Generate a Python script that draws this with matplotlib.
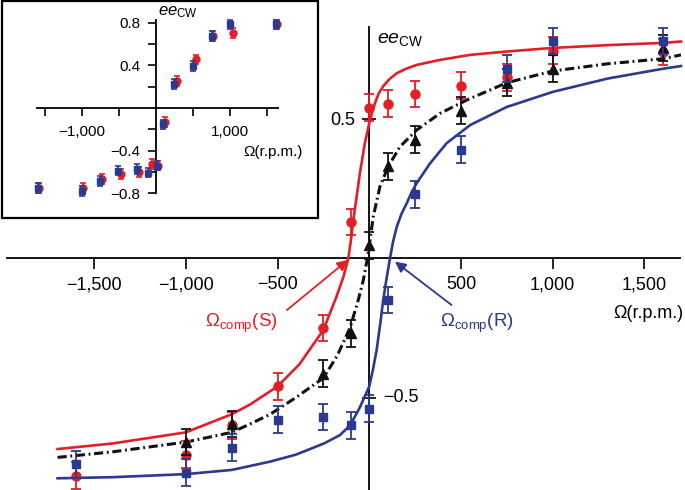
import matplotlib
matplotlib.use('Agg')
import matplotlib.pyplot as plt
from matplotlib.patches import Rectangle

plt.rcParams['font.family'] = ['Liberation Sans', 'DejaVu Sans']
plt.rcParams['mathtext.fontset'] = 'custom'
plt.rcParams['mathtext.rm'] = 'Liberation Sans'
plt.rcParams['mathtext.it'] = 'Liberation Sans:italic'
plt.rcParams['mathtext.bf'] = 'Liberation Sans:bold'
plt.rcParams['axes.unicode_minus'] = True

RED = '#e31e24'
BLUE = '#2b3990'
BLACK = '#111111'

# ---------------- main panel data ----------------
rpm_S = [-1600, -1000, -750, -500, -250, -100, 0, 100, 250, 500, 750, 1000, 1600]
ee_S = [-0.78, -0.705, -0.60, -0.46, -0.25, 0.13, 0.54, 0.555, 0.59, 0.62, 0.65, 0.745, 0.74]

rpm_rac = [-1000, -750, -250, -100, 0, 100, 250, 500, 750, 1000, 1600]
ee_rac = [-0.66, -0.595, -0.415, -0.27, 0.047, 0.33, 0.425, 0.53, 0.63, 0.68, 0.755]

rpm_R = [-1600, -1000, -750, -500, -250, -100, 0, 100, 250, 500, 750, 1000, 1600]
ee_R = [-0.74, -0.77, -0.68, -0.58, -0.57, -0.60, -0.54, -0.15, 0.23, 0.39, 0.68, 0.78, 0.78]

ee_err = 0.048

# fitted curves
fit_S_x = [-1700, -1400, -1000, -750, -650, -500, -380, -250, -180, -140, -114, -100, -87, -51,
           -24, 0, 15, 31, 50, 77, 110, 150, 200, 259, 386, 550, 750, 1000, 1300, 1600, 1700]
fit_S_y = [-0.685, -0.665, -0.625, -0.56, -0.525, -0.46, -0.38, -0.257, -0.14, -0.065, 0.0,
           0.065, 0.137, 0.305, 0.413, 0.485, 0.522, 0.556, 0.59, 0.618, 0.643, 0.664, 0.68,
           0.694, 0.712, 0.73, 0.742, 0.755, 0.765, 0.773, 0.778]

fit_rac_x = [-1700, -1400, -1000, -750, -650, -540, -400, -250, -175, -105, -87, -60, -33, -10,
             22, 58, 104, 167, 258, 386, 532, 750, 1000, 1300, 1600, 1700]
fit_rac_y = [-0.715, -0.695, -0.66, -0.625, -0.595, -0.56, -0.50, -0.43, -0.35, -0.25, -0.21,
             -0.15, -0.08, 0.0, 0.15, 0.257, 0.33, 0.40, 0.46, 0.52, 0.568, 0.63, 0.672, 0.698,
             0.716, 0.73]

fit_R_x = [-1700, -1400, -1000, -750, -540, -400, -247, -160, -105, -51, 0, 20, 40, 60, 76, 95,
           113, 130, 150, 175, 204, 230, 259, 331, 422, 550, 750, 1000, 1300, 1600, 1700]
fit_R_y = [-0.79, -0.786, -0.775, -0.76, -0.73, -0.705, -0.665, -0.635, -0.60, -0.535, -0.46,
           -0.40, -0.33, -0.235, -0.15, -0.07, 0.0, 0.06, 0.113, 0.158, 0.197, 0.235, 0.27,
           0.34, 0.413, 0.478, 0.543, 0.597, 0.645, 0.68, 0.69]

xtick_vals = [-1500, -1000, -500, 500, 1000, 1500]
xtick_labels = ['\u22121,500', '\u22121,000', '\u2212500', '500', '1,000', '1,500']

# ---------------- inset data ----------------
in_rpm_R = [-1600, -1004, -757, -509, -261, -104, 18, 99, 247, 504, 753, 1000, 1622]
in_ee_R = [-0.748, -0.776, -0.685, -0.588, -0.575, -0.607, -0.541, -0.153, 0.225, 0.394, 0.675,
           0.785, 0.785]
in_rpm_S = [-1577, -982, -734, -477, -226, -58, 31, 122, 280, 541, 774, 1045, 1631]
in_ee_S = [-0.748, -0.748, -0.666, -0.619, -0.598, -0.525, -0.541, -0.129, 0.253, 0.457, 0.675,
           0.706, 0.785]
in_err = 0.045

in_xticks = [-1500, -1000, -500, 500, 1000, 1500]
in_xlabels = ['', '\u22121,000', '', '', '1,000', '']
in_yticks = [-0.8, -0.6, -0.4, -0.2, 0.2, 0.4, 0.6, 0.8]
in_ylabels = ['\u22120.8', '', '\u22120.4', '', '', '0.4', '', '0.8']

# ---------------- figure ----------------
fig = plt.figure(figsize=(6.85, 4.9), dpi=100)
ax = fig.add_axes([0, 0, 1, 1])
ax.set_xlim(-2014, 1722)
ax.set_ylim(-0.832, 0.927)
ax.patch.set_alpha(0)
for s in ['top', 'right']:
    ax.spines[s].set_visible(False)
ax.spines['left'].set_position(('data', 0))
ax.spines['bottom'].set_position(('data', 0))
ax.spines['bottom'].set_bounds(-1976, 1696)
ax.spines['left'].set_bounds(-0.832, 0.83)
for s in ['left', 'bottom']:
    ax.spines[s].set_linewidth(1.3)

ax.set_xticks(xtick_vals, xtick_labels)
ax.tick_params(axis='x', direction='out', length=8, width=1.2, pad=5, labelsize=13)
ax.set_yticks([0.5, -0.5], ['0.5', ''])
ax.tick_params(axis='y', direction='inout', length=10, width=1.2, pad=5, labelsize=13)
ax.annotate('\u22120.5', xy=(0, -0.5), xytext=(10, 0), textcoords='offset points',
            ha='left', va='center', fontsize=13)

# curves
ax.plot(fit_S_x, fit_S_y, color=RED, lw=1.9, zorder=3, solid_joinstyle='round')
ax.plot(fit_R_x, fit_R_y, color=BLUE, lw=1.9, zorder=3, solid_joinstyle='round')
ax.plot(fit_rac_x, fit_rac_y, color=BLACK, lw=2.2, linestyle=(0, (3.0, 1.2, 0.6, 1.2)), zorder=3)

# points
ekw = dict(elinewidth=1.3, capsize=3.5, capthick=1.3, linestyle='none')
ax.errorbar(rpm_S, ee_S, yerr=ee_err, fmt='o', color=RED, ms=6.5, zorder=4, **ekw)
ax.errorbar(rpm_rac, ee_rac, yerr=ee_err, fmt='^', color=BLACK, ms=7, zorder=5, **ekw)
ax.errorbar(rpm_R, ee_R, yerr=ee_err, fmt='s', color=BLUE, ms=6, zorder=6, **ekw)

# labels
ax.text(42, 0.773, r'$ee_{\rm CW}$', fontsize=14, ha='left', va='baseline')
ax.text(1711, -0.2, '\u03a9(r.p.m.)', fontsize=13, ha='right', va='center')

ax.text(-896, -0.248, r'$\Omega_{\rm comp}$(S)', fontsize=13.5, color=RED, ha='left', va='baseline')
ax.text(386, -0.248, r'$\Omega_{\rm comp}$(R)', fontsize=13.5, color=BLUE, ha='left', va='baseline')
ax.annotate('', xy=(-116, -0.006), xytext=(-449, -0.186),
            arrowprops=dict(arrowstyle='-|>', color=RED, lw=1.3, mutation_scale=16,
                            shrinkA=0, shrinkB=0))
ax.annotate('', xy=(140, -0.012), xytext=(449, -0.168),
            arrowprops=dict(arrowstyle='-|>', color=BLUE, lw=1.3, mutation_scale=16,
                            shrinkA=0, shrinkB=0))

# ---------------- inset ----------------
axi = fig.add_axes([2 / 685, 1 - 218 / 490, 316 / 685, 217 / 490])
axi.set_zorder(10)
axi.set_facecolor('white')
axi.set_xlim(-2081, 2189)
axi.set_ylim(-1.032, 1.004)
for s in ['top', 'right']:
    axi.spines[s].set_visible(False)
axi.spines['left'].set_position(('data', 0))
axi.spines['bottom'].set_position(('data', 0))
axi.spines['bottom'].set_bounds(-1608, 1649)
axi.spines['left'].set_bounds(-0.797, 0.826)
for s in ['left', 'bottom']:
    axi.spines[s].set_linewidth(1.3)
axi.add_patch(Rectangle((0, 0), 1, 1, transform=axi.transAxes, fill=False, lw=1.6,
                        edgecolor='black', clip_on=False))
axi.set_xticks(in_xticks, in_xlabels)
axi.tick_params(axis='x', direction='out', length=6, width=1.2, pad=6, labelsize=11)
axi.set_yticks(in_yticks, in_ylabels)
axi.tick_params(axis='y', direction='out', length=5.5, width=1.2, pad=6, labelsize=11)

ikw = dict(elinewidth=1.2, capsize=2.5, capthick=1.2, linestyle='none')
axi.errorbar(in_rpm_S, in_ee_S, yerr=in_err, fmt='o', color=RED, ms=5, zorder=4, **ikw)
axi.errorbar(in_rpm_R, in_ee_R, yerr=in_err, fmt='s', color=BLUE, ms=5, zorder=5, **ikw)

axi.text(27, 0.872, r'$ee_{\rm CW}$', fontsize=12, ha='left', va='baseline')
axi.text(1176, -0.413, '\u03a9(r.p.m.)', fontsize=11, ha='left', va='center')

fig.savefig('out.png', dpi=100)
